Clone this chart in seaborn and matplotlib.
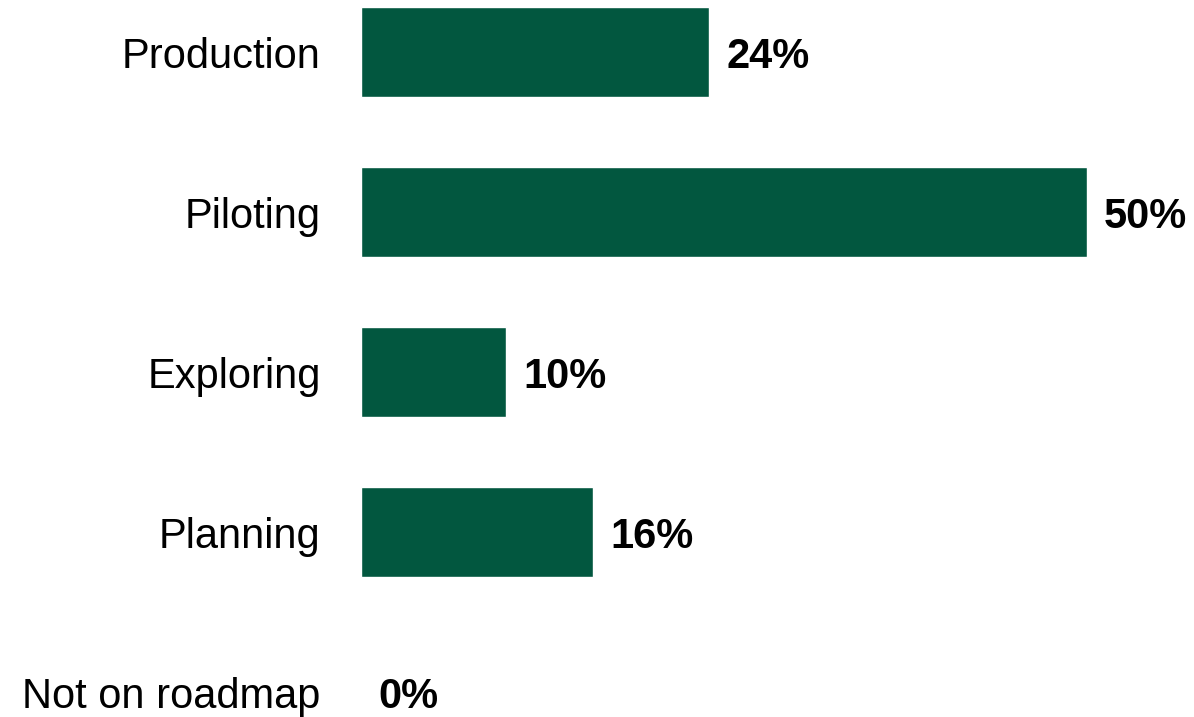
import matplotlib
matplotlib.use("Agg")
import matplotlib.pyplot as plt
import seaborn as sns
import pandas as pd

# data
stages = ["Production", "Piloting", "Exploring", "Planning", "Not on roadmap"]
shares = [24, 50, 10, 16, 0]

df = pd.DataFrame({"stage": stages, "share": shares})

sns.set_theme(style="white")
plt.rcParams["font.family"] = ["Liberation Sans", "DejaVu Sans"]

fig = plt.figure(figsize=(11.94, 7.17), dpi=100)
ax = fig.add_axes([361 / 1194, 0, 726 / 1194, 1])

sns.barplot(data=df, x="share", y="stage", order=stages, color="#02573F",
            saturation=1, width=0.56, ax=ax)

# value labels at bar ends
for i, v in enumerate(shares):
    ax.annotate(f"{v}%", xy=(v, i), xytext=(17, -5), textcoords="offset pixels",
                ha="left", va="center", fontsize=30, fontweight="bold",
                color="black")

ax.set_xlim(0, 50)
ax.set_ylim(4.156, -0.325)
ax.set_xlabel("")
ax.set_ylabel("")
ax.set_xticks([])
ax.tick_params(axis="y", length=0, pad=29, labelsize=30, labelcolor="black")
for s in ax.spines.values():
    s.set_visible(False)

fig.savefig("out.png", dpi=100)
